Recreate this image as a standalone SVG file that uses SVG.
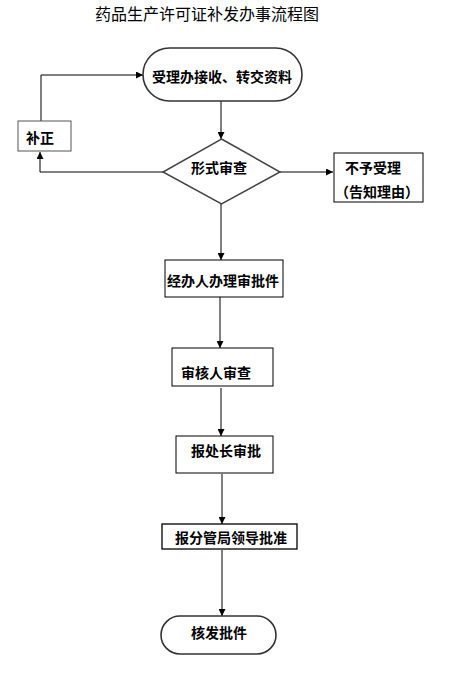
<svg xmlns="http://www.w3.org/2000/svg" width="462" height="678" viewBox="0 0 462 678">
<style>
text{font-family:"Noto Sans CJK SC","Noto Sans",sans-serif;fill:#000}
.t{font-size:14px;font-weight:bold;dominant-baseline:central}
.title{font-size:16px}
.box{fill:#fff;stroke:#000;stroke-width:1}
.term{fill:#fff;stroke:#333;stroke-width:1.6}
.ln{fill:none;stroke:#000;stroke-width:1}
</style>
<defs>
<marker id="ah" viewBox="0 0 10 10" refX="10" refY="5" markerWidth="7" markerHeight="7" markerUnits="userSpaceOnUse" orient="auto">
<path d="M0,0 L10,5 L0,10 z" fill="#000"/>
</marker>
</defs>
<rect width="462" height="678" fill="#fff"/>
<text class="title" x="95" y="20">药品生产许可证补发办事流程图</text>
<g id="connectors">
<path class="ln" d="M221,101 V139" marker-end="url(#ah)"/>
<path class="ln" d="M163,172 H40 V152" marker-end="url(#ah)"/>
<path class="ln" d="M41,121 V75 H143" marker-end="url(#ah)"/>
<path class="ln" d="M280,172 H333" marker-end="url(#ah)"/>
<path class="ln" d="M221,204 V260" marker-end="url(#ah)"/>
<path class="ln" d="M220,297 V348" marker-end="url(#ah)"/>
<path class="ln" d="M221,388 V436" marker-end="url(#ah)"/>
<path class="ln" d="M222,474 V524" marker-end="url(#ah)"/>
<path class="ln" d="M222,550 V616" marker-end="url(#ah)"/>
</g>
<g id="n-receive">
<rect class="term" x="143" y="48" width="159" height="53" rx="26.5"/>
<text class="t" x="222" y="76" text-anchor="middle">受理办接收、转交资料</text>
</g>
<g id="n-check">
<polygon class="box" points="221.5,139 280,172 221.5,204 163,172" style="stroke:#444;stroke-width:1.5"/>
<text class="t" x="219" y="167" text-anchor="middle">形式审查</text>
</g>
<g id="n-fix">
<rect class="box" x="18" y="121" width="53" height="30" style="stroke:#555"/>
<text class="t" x="40" y="137" text-anchor="middle">补正</text>
</g>
<g id="n-reject">
<rect class="box" x="334" y="153" width="89" height="49"/>
<text class="t" x="373" y="167" text-anchor="middle">不予受理</text>
<text class="t" x="377" y="191" text-anchor="middle">（告知理由）</text>
</g>
<g id="n-handler">
<rect class="box" x="165" y="260" width="118" height="37"/>
<text class="t" x="223" y="280" text-anchor="middle">经办人办理审批件</text>
</g>
<g id="n-reviewer">
<rect class="box" x="172" y="348" width="101" height="38"/>
<text class="t" x="216" y="372" text-anchor="middle">审核人审查</text>
</g>
<g id="n-chief">
<rect class="box" x="176" y="436" width="97" height="37"/>
<text class="t" x="226" y="450" text-anchor="middle">报处长审批</text>
</g>
<g id="n-leader">
<rect class="box" x="162" y="524" width="135" height="25" style="stroke-width:1.3"/>
<text class="t" x="231" y="537" text-anchor="middle">报分管局领导批准</text>
</g>
<g id="n-issue">
<rect class="term" x="161" y="616" width="115" height="38" rx="19"/>
<text class="t" x="219" y="632" text-anchor="middle">核发批件</text>
</g>
</svg>
